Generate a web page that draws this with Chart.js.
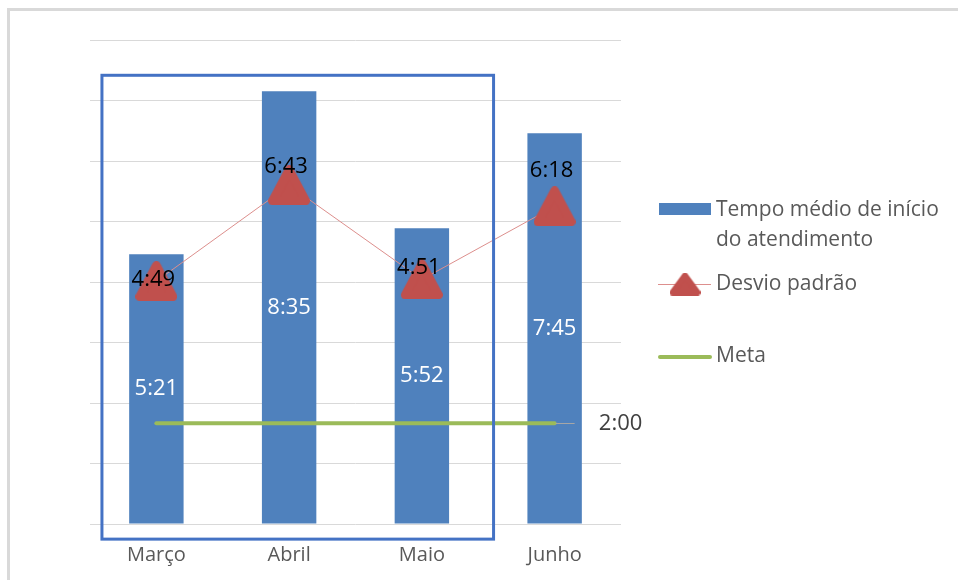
<!DOCTYPE html>
<html lang="pt">
<head>
<meta charset="utf-8">
<title>Tempo médio de início do atendimento</title>
<script src="https://cdn.jsdelivr.net/npm/chart.js@4.4.1/dist/chart.umd.min.js"></script>
<style>
  html, body { margin: 0; padding: 0; background: #ffffff; }
  #wrap { width: 958px; height: 580px; position: relative; }
</style>
</head>
<body>
<div id="wrap"><canvas id="chart" width="958" height="580"></canvas></div>
<script>
// Monthly figures, written as m:ss
const meses = ['Março', 'Abril', 'Maio', 'Junho'];
const tempoMedio = ['5:21', '8:35', '5:52', '7:45'];
const desvioPadrao = ['4:49', '6:43', '4:51', '6:18'];
const meta = ['2:00', '2:00', '2:00', '2:00'];

// Value axis in seconds: 0 .. 9:36, gridline every 1:12
const eixoMax = 576;
const eixoPasso = 72;

// Vertical nudge of the standard-deviation labels (px)
const desvioLabelShift = [-1, -19, -12, -36];

const toSec = s => { const [m, ss] = s.split(':').map(Number); return m * 60 + ss; };

const FONT = '"Open Sans", Lato, sans-serif';
const BLUE = '#4F81BD';
const RED = '#C0504D';
const GREEN = '#9BBB59';
const TEXT = '#595959';

// Rounded triangle used as the point marker
function roundedTriangle(w, h, r) {
  const c = document.createElement('canvas');
  c.width = w; c.height = h;
  const g = c.getContext('2d');
  const p = r / 2;
  g.beginPath();
  g.moveTo(w / 2, p);
  g.lineTo(w - p, h - p);
  g.lineTo(p, h - p);
  g.closePath();
  g.lineJoin = 'round';
  g.lineWidth = r;
  g.fillStyle = RED;
  g.strokeStyle = RED;
  g.fill();
  g.stroke();
  return c;
}
const triMarker = roundedTriangle(42, 40, 9);
const triLegend = roundedTriangle(31, 23, 6);

const framePlugin = {
  id: 'frame',
  beforeDraw(chart) {
    const ctx = chart.ctx;
    ctx.save();
    ctx.fillStyle = '#ffffff';
    ctx.fillRect(0, 0, chart.width, chart.height);
    ctx.fillStyle = '#D9D9D9';
    ctx.fillRect(7, 8, chart.width - 7, 3);
    ctx.fillRect(7, 8, 3, chart.height - 8);
    ctx.restore();
  }
};

const valueLabels = {
  id: 'valueLabels',
  afterDatasetsDraw(chart) {
    const ctx = chart.ctx;
    ctx.save();
    ctx.textAlign = 'center';
    ctx.textBaseline = 'middle';
    ctx.font = '22px ' + FONT;

    ctx.fillStyle = '#ffffff';
    chart.getDatasetMeta(0).data.forEach((el, i) => {
      ctx.fillText(tempoMedio[i], el.x, (el.y + el.base) / 2);
    });

    ctx.fillStyle = '#000000';
    chart.getDatasetMeta(1).data.forEach((el, i) => {
      ctx.fillText(desvioPadrao[i], el.x - 3, el.y + desvioLabelShift[i]);
    });

    // goal label with a short leader line after the last point
    const metaPts = chart.getDatasetMeta(2).data;
    const last = metaPts[metaPts.length - 1];
    ctx.strokeStyle = '#A6A6A6';
    ctx.lineWidth = 1;
    ctx.beginPath();
    ctx.moveTo(last.x + 1, Math.round(last.y) + 0.5);
    ctx.lineTo(last.x + 20, Math.round(last.y) + 0.5);
    ctx.stroke();
    ctx.fillStyle = '#404040';
    ctx.fillText(meta[meta.length - 1], last.x + 66, last.y + 1);
    ctx.restore();
  }
};

// Highlight box around the first three months, given in axis units
const destaque = { xMin: -0.41, xMax: 2.54, yMin: -18, yMax: 534 };

const highlightAndLegend = {
  id: 'highlightAndLegend',
  afterDraw(chart) {
    const ctx = chart.ctx;
    const xs = chart.scales.x, ys = chart.scales.y;
    const step = xs.getPixelForValue(1) - xs.getPixelForValue(0);
    const x0 = xs.getPixelForValue(0);
    const l = x0 + destaque.xMin * step, r = x0 + destaque.xMax * step;
    const t = ys.getPixelForValue(destaque.yMax), b = ys.getPixelForValue(destaque.yMin);
    ctx.save();
    ctx.strokeStyle = '#4472C4';
    ctx.lineWidth = 3;
    ctx.strokeRect(l, t, r - l, b - t);

    // legend
    const lx = 659, tx = 716;
    ctx.font = '21px ' + FONT;
    ctx.textAlign = 'left';
    ctx.textBaseline = 'middle';

    ctx.fillStyle = BLUE;
    ctx.fillRect(lx, 203, 52, 12);
    ctx.fillStyle = TEXT;
    ctx.fillText('Tempo médio de início', tx, 210);
    ctx.fillText('do atendimento', tx, 240);

    ctx.strokeStyle = '#DD8F8D';
    ctx.lineWidth = 1;
    ctx.beginPath();
    ctx.moveTo(lx - 1, 284.5);
    ctx.lineTo(lx + 52, 284.5);
    ctx.stroke();
    ctx.drawImage(triLegend, lx + 26 - triLegend.width / 2, 284 - triLegend.height / 2);
    ctx.fillText('Desvio padrão', tx, 284);

    ctx.strokeStyle = GREEN;
    ctx.lineWidth = 4;
    ctx.lineCap = 'round';
    ctx.beginPath();
    ctx.moveTo(lx + 1, 357);
    ctx.lineTo(lx + 51, 357);
    ctx.stroke();
    ctx.fillText('Meta', tx, 356);
    ctx.restore();
  }
};

new Chart(document.getElementById('chart'), {
  data: {
    labels: meses,
    datasets: [
      {
        type: 'bar',
        label: 'Tempo médio de início do atendimento',
        data: tempoMedio.map(toSec),
        backgroundColor: BLUE,
        barPercentage: 0.41,
        categoryPercentage: 1.0,
        order: 3
      },
      {
        type: 'line',
        label: 'Desvio padrão',
        data: desvioPadrao.map(toSec),
        borderColor: '#DD8F8D',
        borderWidth: 1,
        pointStyle: triMarker,
        pointRadius: 20,
        tension: 0,
        order: 1
      },
      {
        type: 'line',
        label: 'Meta',
        data: meta.map(toSec),
        borderColor: GREEN,
        borderWidth: 4,
        borderCapStyle: 'round',
        pointRadius: 0,
        order: 2
      }
    ]
  },
  options: {
    responsive: false,
    animation: false,
    layout: { padding: { left: 90, right: 337, top: 40, bottom: 14 } },
    plugins: { legend: { display: false }, tooltip: { enabled: false } },
    scales: {
      x: {
        grid: { display: false, drawTicks: false },
        border: { display: false },
        ticks: { color: TEXT, font: { family: FONT, size: 20 }, padding: 19 },
        afterFit(scale) { scale.height = 42; }
      },
      y: {
        min: 0,
        max: eixoMax,
        ticks: { display: false, stepSize: eixoPasso },
        grid: { color: '#D9D9D9', lineWidth: 1, drawTicks: false },
        border: { display: false }
      }
    }
  },
  plugins: [framePlugin, valueLabels, highlightAndLegend]
});
</script>
</body>
</html>
